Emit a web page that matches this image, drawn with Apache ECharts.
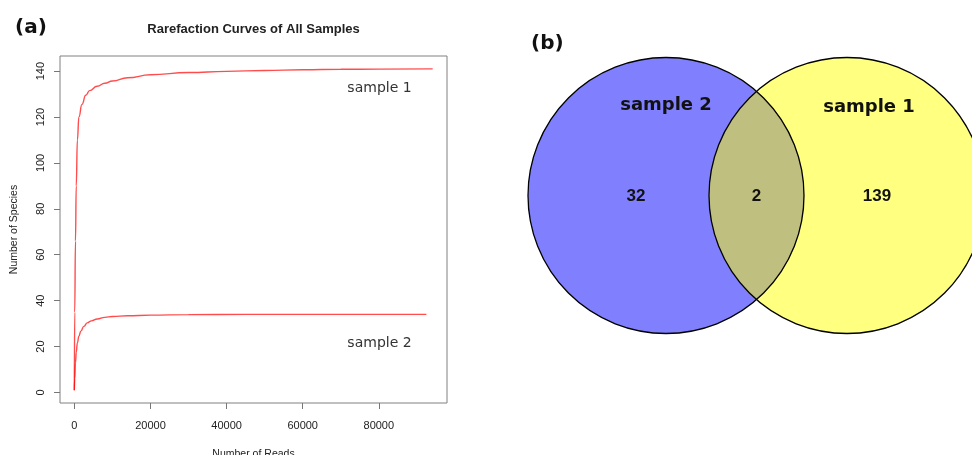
<!DOCTYPE html>
<html>
<head>
<meta charset="utf-8">
<script src="https://cdn.jsdelivr.net/npm/echarts@6/dist/echarts.min.js"></script>
<style>html,body{margin:0;padding:0;background:#fff;}#c{width:972px;height:455px;}</style>
</head>
<body>
<div id="c"></div>
<script>
// ---- Data ----
const reads1 = [0, 100, 300, 500, 800, 1200, 2000, 3000, 4000, 6000, 8000, 10000, 14000, 20000, 30000, 40000, 50000, 60000, 70000, 80000, 94150];
const species1 = [1, 35, 66, 90, 110, 120, 125.5, 129.5, 131.5, 133.4, 134.7, 135.7, 137.1, 138.4, 139.4, 139.9, 140.3, 140.6, 140.8, 140.9, 141];
const reads2 = [0, 100, 300, 500, 800, 1200, 1700, 2500, 3400, 4500, 6000, 8000, 10000, 14000, 20000, 30000, 45000, 60000, 75000, 92500];
const species2 = [1, 6, 13, 17.5, 21.6, 24.5, 26.7, 28.8, 30.3, 31.2, 32, 32.7, 33.1, 33.4, 33.7, 33.9, 34, 34, 34, 34];
const xTicks = [0, 20000, 40000, 60000, 80000];
const yTicks = [0, 20, 40, 60, 80, 100, 120, 140];
const sampleNames = ['sample 1', 'sample 2'];
const vennLabels = ['sample 2', 'sample 1'];
const vennCounts = [32, 2, 139]; // only sample 2, shared, only sample 1

const chart = echarts.init(document.getElementById('c'), null, {renderer: 'canvas'});

const zip = (a, b) => a.map((v, i) => [v, b[i]]);

// Venn geometry (layout only)
const r = 138, cy = 195.5, cxL = 666, cxR = 847;
const half = (cxR - cxL) / 2;
const ang = Math.acos(half / r);
const lensPts = [];
const N = 80;
for (let i = 0; i <= N; i++) {
  const t = Math.PI - ang + (2 * ang) * i / N;
  lensPts.push([cxR + r * Math.cos(t), cy - r * Math.sin(t)]);
}
for (let i = 0; i <= N; i++) {
  const t = -ang + (2 * ang) * i / N;
  lensPts.push([cxL + r * Math.cos(t), cy - r * Math.sin(t)]);
}

const axisFont = {fontFamily: 'Liberation Sans', fontSize: 11, color: '#222'};

chart.setOption({
  animation: false,
  grid: {left: 60, top: 56, width: 387, height: 347, show: true, borderColor: '#808080', borderWidth: 1,
         containLabel: false, outerBoundsMode: 'none'},
  xAxis: {
    type: 'value', min: -3766, max: 97916,
    axisLine: {show: false, onZero: false},
    splitLine: {show: false},
    axisTick: {show: true, length: 6, lineStyle: {color: '#777'}, customValues: xTicks},
    axisLabel: Object.assign({margin: 17, customValues: xTicks, formatter: v => String(v)}, axisFont),
    name: 'Number of Reads', nameLocation: 'middle', nameGap: 46,
    nameTextStyle: {fontFamily: 'Liberation Sans', fontSize: 10.5, color: '#222'}
  },
  yAxis: {
    type: 'value', min: -4.6, max: 146.6,
    axisLine: {show: false, onZero: false},
    splitLine: {show: false},
    axisTick: {show: true, length: 6, lineStyle: {color: '#777'}, customValues: yTicks},
    axisLabel: Object.assign({margin: 14, rotate: 90, customValues: yTicks, formatter: v => String(v)}, axisFont),
    name: 'Number of Species', nameLocation: 'middle', nameGap: 40,
    nameTextStyle: {fontFamily: 'Liberation Sans', fontSize: 10.5, color: '#222'}
  },
  series: [
    {type: 'line', name: sampleNames[0], data: zip(reads1, species1), showSymbol: false, smooth: 0.5, smoothMonotone: 'x',
     lineStyle: {color: 'rgba(255,0,0,0.7)', width: 1.4}},
    {type: 'line', name: sampleNames[1], data: zip(reads2, species2), showSymbol: false, smooth: 0.5, smoothMonotone: 'x',
     lineStyle: {color: 'rgba(255,0,0,0.7)', width: 1.4}}
  ],
  graphic: [
    {type: 'text', x: 15, y: 28, style: {text: '(a)', font: 'bold 20px "DejaVu Sans"', fill: '#111', verticalAlign: 'middle'}},
    {type: 'text', x: 253.5, y: 29, style: {text: 'Rarefaction Curves of All Samples', font: 'bold 13px "Liberation Sans"', fill: '#222', align: 'center', verticalAlign: 'middle'}},
    {type: 'text', x: 379.5, y: 88, style: {text: sampleNames[0], font: '14px "DejaVu Sans"', fill: '#333', align: 'center', verticalAlign: 'middle'}},
    {type: 'text', x: 379.5, y: 343, style: {text: sampleNames[1], font: '14px "DejaVu Sans"', fill: '#333', align: 'center', verticalAlign: 'middle'}},
    {type: 'text', x: 531, y: 44, style: {text: '(b)', font: 'bold 20px "DejaVu Sans"', fill: '#111', verticalAlign: 'middle'}},
    {type: 'circle', shape: {cx: cxL, cy: cy, r: r}, style: {fill: '#8080ff'}},
    {type: 'circle', shape: {cx: cxR, cy: cy, r: r}, style: {fill: '#ffff80'}},
    {type: 'polygon', shape: {points: lensPts}, style: {fill: '#bfbf80'}},
    {type: 'circle', shape: {cx: cxL, cy: cy, r: r}, style: {fill: null, stroke: '#000', lineWidth: 1.3}},
    {type: 'circle', shape: {cx: cxR, cy: cy, r: r}, style: {fill: null, stroke: '#000', lineWidth: 1.3}},
    {type: 'text', x: 666, y: 105, style: {text: vennLabels[0], font: 'bold 18px "DejaVu Sans"', fill: '#111', align: 'center', verticalAlign: 'middle'}},
    {type: 'text', x: 869, y: 107, style: {text: vennLabels[1], font: 'bold 18px "DejaVu Sans"', fill: '#111', align: 'center', verticalAlign: 'middle'}},
    {type: 'text', x: 636, y: 196, style: {text: String(vennCounts[0]), font: 'bold 17px "Liberation Sans"', fill: '#111', align: 'center', verticalAlign: 'middle'}},
    {type: 'text', x: 756.5, y: 196, style: {text: String(vennCounts[1]), font: 'bold 17px "Liberation Sans"', fill: '#111', align: 'center', verticalAlign: 'middle'}},
    {type: 'text', x: 877, y: 196, style: {text: String(vennCounts[2]), font: 'bold 17px "Liberation Sans"', fill: '#111', align: 'center', verticalAlign: 'middle'}}
  ]
});
</script>
</body>
</html>
